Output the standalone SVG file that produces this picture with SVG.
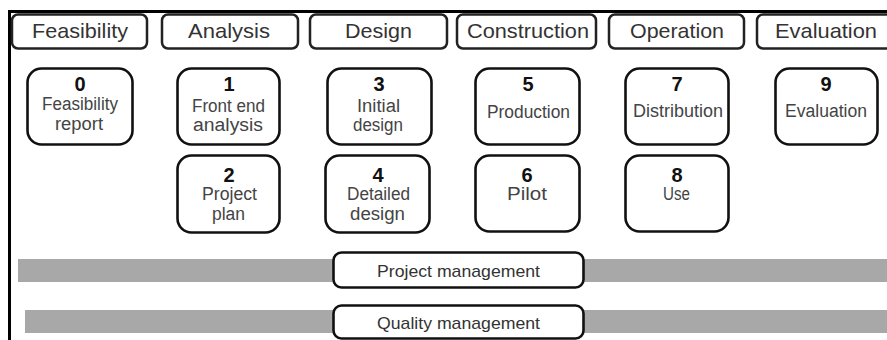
<svg xmlns="http://www.w3.org/2000/svg" width="887" height="340" viewBox="0 0 887 340">
<style>
.hdr{fill:#fff;stroke:#222;stroke-width:2.5}
.nd{fill:#fff;stroke:#111;stroke-width:2.6}
.bar{fill:#a8a8a8}
text{font-family:"Liberation Sans",Arial,sans-serif;text-anchor:middle}
.ht{font-size:21px;fill:#333}
.num{font-size:20px;font-weight:bold;fill:#111}
.lb{font-size:18px;fill:#444}
.bt{font-size:17px;fill:#333}
</style>
<rect width="887" height="340" fill="#fff"/>
<g id="frame">
<line x1="8" y1="11.5" x2="887" y2="11.5" stroke="#000" stroke-width="3"/>
<line x1="9.5" y1="10" x2="9.5" y2="340" stroke="#000" stroke-width="3"/>
</g>
<g id="connectors"></g>
<g id="phase-feasibility"><rect class="hdr" x="12" y="14.5" width="135" height="34" rx="6"/><text class="ht" x="80" y="37.5" textLength="96" lengthAdjust="spacingAndGlyphs">Feasibility</text></g>
<g id="phase-analysis"><rect class="hdr" x="162" y="14.5" width="136" height="34" rx="6"/><text class="ht" x="229" y="37.5" textLength="82" lengthAdjust="spacingAndGlyphs">Analysis</text></g>
<g id="phase-design"><rect class="hdr" x="310" y="14.5" width="137" height="34" rx="6"/><text class="ht" x="378.5" y="37.5" textLength="67" lengthAdjust="spacingAndGlyphs">Design</text></g>
<g id="phase-construction"><rect class="hdr" x="457" y="14.5" width="139" height="34" rx="6"/><text class="ht" x="528" y="37.5" textLength="122" lengthAdjust="spacingAndGlyphs">Construction</text></g>
<g id="phase-operation"><rect class="hdr" x="609" y="14.5" width="135" height="34" rx="6"/><text class="ht" x="677" y="37.5" textLength="94" lengthAdjust="spacingAndGlyphs">Operation</text></g>
<g id="phase-evaluation"><rect class="hdr" x="757" y="14.5" width="140" height="34" rx="6"/><text class="ht" x="826" y="37.5" textLength="102" lengthAdjust="spacingAndGlyphs">Evaluation</text></g>

<g id="node0"><rect class="nd" x="27.5" y="68.5" width="105" height="76" rx="14"/><text class="num" x="80" y="91">0</text><text class="lb" x="80" y="110" textLength="76" lengthAdjust="spacingAndGlyphs">Feasibility</text><text class="lb" x="79" y="130" textLength="48" lengthAdjust="spacingAndGlyphs">report</text></g>
<g id="node1"><rect class="nd" x="177.5" y="68.5" width="102" height="76" rx="14"/><text class="num" x="229" y="91">1</text><text class="lb" x="228.5" y="112" textLength="73" lengthAdjust="spacingAndGlyphs">Front end</text><text class="lb" x="228" y="131" textLength="70" lengthAdjust="spacingAndGlyphs">analysis</text></g>
<g id="node3"><rect class="nd" x="327.5" y="68.5" width="104" height="76" rx="14"/><text class="num" x="379" y="91">3</text><text class="lb" x="378.5" y="112" textLength="43" lengthAdjust="spacingAndGlyphs">Initial</text><text class="lb" x="378" y="131" textLength="50" lengthAdjust="spacingAndGlyphs">design</text></g>
<g id="node5"><rect class="nd" x="475.5" y="68.5" width="104" height="76" rx="14"/><text class="num" x="528" y="91">5</text><text class="lb" x="528.5" y="118" textLength="83" lengthAdjust="spacingAndGlyphs">Production</text></g>
<g id="node7"><rect class="nd" x="625.5" y="68.5" width="103" height="76" rx="14"/><text class="num" x="677" y="91">7</text><text class="lb" x="678" y="117" textLength="90" lengthAdjust="spacingAndGlyphs">Distribution</text></g>
<g id="node9"><rect class="nd" x="775.5" y="68.5" width="102" height="76" rx="14"/><text class="num" x="826" y="91">9</text><text class="lb" x="826" y="117" textLength="82" lengthAdjust="spacingAndGlyphs">Evaluation</text></g>

<g id="node2"><rect class="nd" x="177.5" y="155.5" width="102" height="77" rx="14"/><text class="num" x="229" y="182">2</text><text class="lb" x="229.5" y="200" textLength="55" lengthAdjust="spacingAndGlyphs">Project</text><text class="lb" x="228.5" y="220" textLength="33" lengthAdjust="spacingAndGlyphs">plan</text></g>
<g id="node4"><rect class="nd" x="325.5" y="155.5" width="104" height="77" rx="14"/><text class="num" x="378" y="182">4</text><text class="lb" x="378.5" y="200" textLength="63" lengthAdjust="spacingAndGlyphs">Detailed</text><text class="lb" x="377.5" y="220" textLength="55" lengthAdjust="spacingAndGlyphs">design</text></g>
<g id="node6"><rect class="nd" x="475.5" y="155.5" width="104" height="76" rx="14"/><text class="num" x="527" y="182">6</text><text class="lb" x="527" y="200" textLength="40" lengthAdjust="spacingAndGlyphs">Pilot</text></g>
<g id="node8"><rect class="nd" x="625.5" y="155.5" width="103" height="76" rx="14"/><text class="num" x="677" y="182">8</text><text class="lb" x="676.5" y="200" textLength="27" lengthAdjust="spacingAndGlyphs">Use</text></g>

<g id="project-management">
<rect class="bar" x="18" y="259" width="869" height="23"/>
<rect class="nd" x="333.5" y="252.5" width="250" height="35" rx="8"/>
<text class="bt" x="458.5" y="277" textLength="163" lengthAdjust="spacingAndGlyphs">Project management</text>
</g>
<g id="quality-management">
<rect class="bar" x="25" y="310" width="862" height="23"/>
<rect class="nd" x="333.5" y="305.5" width="250" height="33" rx="8"/>
<text class="bt" x="458.5" y="329" textLength="163" lengthAdjust="spacingAndGlyphs">Quality management</text>
</g>
</svg>
